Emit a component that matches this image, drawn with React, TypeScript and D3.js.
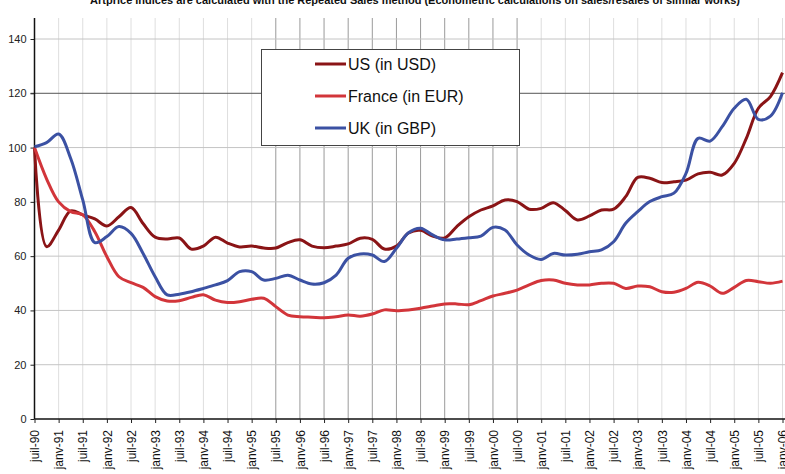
import { useEffect, useRef } from 'react';
import * as d3 from 'd3';

// half-year tick labels, juil-90 .. janv-06
const tickLabels = [
  'juil-90', 'janv-91', 'juil-91', 'janv-92', 'juil-92', 'janv-93', 'juil-93', 'janv-94',
  'juil-94', 'janv-95', 'juil-95', 'janv-96', 'juil-96', 'janv-97', 'juil-97', 'janv-98',
  'juil-98', 'janv-99', 'juil-99', 'janv-00', 'juil-00', 'janv-01', 'juil-01', 'janv-02',
  'juil-02', 'janv-03', 'juil-03', 'janv-04', 'juil-04', 'janv-05', 'juil-05', 'janv-06',
];

// quarterly index values (juil-90 = 100)
const usValues = [
  100, 63.5, 69.6, 76.7, 75.2, 73.7, 71.1, 74.5, 77.9, 72, 67, 66.3, 66.7, 62.6, 63.7, 67,
  64.8, 63.4, 63.7, 63, 63, 65, 66, 63.7, 63.1, 63.7, 64.5, 66.6, 66.2, 62.6, 63.7, 68.5,
  69.5, 67.4, 66.7, 70.9, 74.5, 77, 78.5, 80.7, 80.1, 77.3, 77.6, 79.7, 76.8, 73.3, 74.8, 77,
  77.3, 81.9, 89, 88.7, 87.1, 87.4, 88, 90.3, 90.9, 89.9, 94.2, 103.4, 114.5, 118.8, 127.6,
];
const franceValues = [
  100, 88.5, 80, 76.4, 75.2, 69, 59.8, 52.4, 50.2, 48.5, 45.1, 43.5, 43.6, 44.8, 45.8, 43.8,
  42.9, 43.2, 44.1, 44.5, 41.4, 38.3, 37.7, 37.5, 37.3, 37.7, 38.3, 37.9, 38.7, 40.2, 39.9, 40.2,
  40.8, 41.6, 42.4, 42.4, 42.1, 43.6, 45.3, 46.3, 47.5, 49.4, 51, 51.2, 50, 49.4, 49.4, 50,
  50, 48.1, 49, 48.7, 46.9, 46.7, 48.1, 50.4, 49, 46.3, 48.5, 51, 50.6, 50, 50.8,
];
const ukValues = [
  100.3, 101.8, 105, 96, 80.7, 65, 67.2, 70.9, 68.4, 61, 52.4, 45.7, 46, 46.9, 48.1, 49.4,
  51, 54.3, 54.3, 51.2, 51.8, 53, 51.2, 49.7, 50.2, 53, 59.2, 60.8, 60.4, 58, 62.9, 68.6,
  70.3, 67.8, 66, 66.3, 66.8, 67.4, 70.6, 69.6, 64.1, 60.4, 58.8, 61, 60.4, 60.7, 61.6, 62.3,
  65.3, 72.1, 76.4, 80.1, 81.9, 83.2, 90.5, 103.4, 102.4, 107.7, 114.5, 117.8, 110.4, 111.6, 120.2,
];

const seriesNames = ['US (in USD)', 'France (in EUR)', 'UK (in GBP)'];
const seriesColors = ['#8a1416', '#d2353a', '#3b51a3'];
const yTicks = [0, 20, 40, 60, 80, 100, 120, 140];

const App = () => {
  const ref = useRef<SVGSVGElement>(null);

  useEffect(() => {
    const width = 785;
    const height = 474;
    const top = 18;
    const font = 'Arial, "Liberation Sans", sans-serif';

    const svg = d3.select(ref.current);
    svg.selectAll('*').remove();

    const x = d3.scaleLinear().domain([0, tickLabels.length - 1]).range([34.5, 782.5]);
    const y = d3.scaleLinear().domain([0, 140]).range([419, 39]);

    svg.append('rect').attr('width', width).attr('height', height).attr('fill', '#fff');

    // title, clipped by the top edge as in the original
    svg.append('text')
      .attr('x', 415).attr('y', 4)
      .attr('text-anchor', 'middle')
      .attr('font-family', font).attr('font-size', 11).attr('font-weight', 'bold')
      .attr('fill', '#111')
      .text('Artprice indices are calculated with the Repeated Sales method (Econometric calculations on sales/resales of similar works)');

    // vertical grid
    svg.append('g').selectAll('line')
      .data(tickLabels.slice(1))
      .enter().append('line')
      .attr('x1', (d, i) => x(i + 1)).attr('x2', (d, i) => x(i + 1))
      .attr('y1', top).attr('y2', y(0))
      .attr('stroke', (d, i) => (i + 1 >= 10 && i + 1 <= 20 ? '#9a9a9a' : '#dedede'))
      .attr('stroke-width', 1);

    // horizontal grid
    svg.append('g').selectAll('line')
      .data(yTicks.slice(1))
      .enter().append('line')
      .attr('x1', d => (d === 120 ? x(0) - 4 : x(0))).attr('x2', width)
      .attr('y1', d => y(d)).attr('y2', d => y(d))
      .attr('stroke', d => (d === 120 ? '#555' : '#c4c4c4'))
      .attr('stroke-width', 1);

    // axes
    const yAxis = svg.append('g')
      .attr('transform', `translate(${x(0)},0)`)
      .call(d3.axisLeft(y).tickValues(yTicks).tickSize(4).tickPadding(4));
    yAxis.select('.domain').remove();
    yAxis.append('line').attr('x1', 0).attr('x2', 0).attr('y1', top).attr('y2', y(0))
      .attr('stroke', '#111').attr('stroke-width', 1.5);
    yAxis.selectAll('text').attr('font-family', font).attr('font-size', 11).attr('fill', '#222');
    yAxis.selectAll('.tick line').attr('stroke', '#222');

    const xAxis = svg.append('g')
      .attr('transform', `translate(0,${y(0)})`)
      .call(d3.axisBottom(x).tickValues(d3.range(tickLabels.length))
        .tickFormat(i => tickLabels[i as number]).tickSize(4).tickPadding(4));
    xAxis.select('.domain').attr('stroke', '#111').attr('stroke-width', 1.5)
      .attr('d', `M${x(0)},0H${width}`);
    xAxis.selectAll('.tick line').attr('stroke', '#222');
    xAxis.selectAll('text')
      .attr('font-family', font).attr('font-size', 12).attr('fill', '#111')
      .attr('transform', 'rotate(-90)')
      .attr('text-anchor', 'end')
      .attr('x', -11).attr('y', 0).attr('dy', '0.35em');

    // lines
    const all = [usValues, franceValues, ukValues];
    const line = d3.line<number>()
      .x((d, i) => x(i / 2))
      .y(d => y(d))
      .curve(d3.curveCatmullRom.alpha(0.5));

    all.forEach((vals, k) => {
      svg.append('path')
        .datum(vals)
        .attr('d', line)
        .attr('fill', 'none')
        .attr('stroke', seriesColors[k])
        .attr('stroke-width', 3)
        .attr('stroke-linejoin', 'round');
    });

    // legend
    const lg = svg.append('g');
    lg.append('rect')
      .attr('x', 261.5).attr('y', 49.5).attr('width', 258).attr('height', 96)
      .attr('fill', '#fff').attr('stroke', '#444').attr('stroke-width', 1);
    seriesNames.forEach((name, k) => {
      const cy = 64 + k * 32;
      lg.append('line')
        .attr('x1', 315).attr('x2', 346).attr('y1', cy).attr('y2', cy)
        .attr('stroke', seriesColors[k]).attr('stroke-width', 3);
      lg.append('text')
        .attr('x', 348).attr('y', cy).attr('dy', '0.35em')
        .attr('font-family', font).attr('font-size', 16).attr('fill', '#111')
        .text(name);
    });
  }, []);

  return (
    <svg ref={ref} width={785} height={474}
      style={{ position: 'absolute', left: 0, top: 0, display: 'block' }} />
  );
};

export default App;
